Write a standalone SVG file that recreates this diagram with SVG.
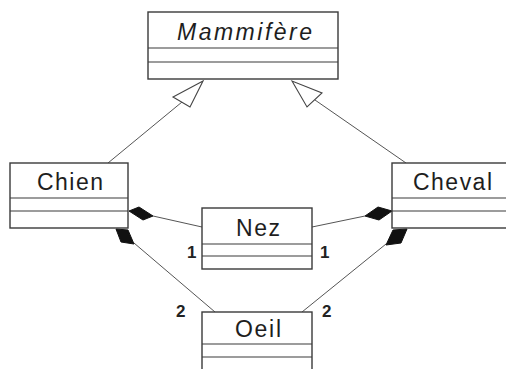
<svg xmlns="http://www.w3.org/2000/svg" width="506" height="369" viewBox="0 0 506 369">
<style>
.box{fill:#fff;stroke:#3a3a3a;stroke-width:1.4}
.div{stroke:#3a3a3a;stroke-width:1.2}
.name{font-family:"Liberation Sans",Arial,sans-serif;font-size:23px;fill:#1e1e1e;text-anchor:start}
.mult{font-family:"Liberation Sans",Arial,sans-serif;font-size:17px;font-weight:bold;fill:#222}
.ln{stroke:#555;stroke-width:1;fill:none}
.tri{fill:#fff;stroke:#444;stroke-width:1.1}
.dia{fill:#111;stroke:#111;stroke-width:1}
</style>
<rect width="506" height="369" fill="#fff"/>
<g id="connectors">
  <line class="ln" x1="108" y1="163" x2="182" y2="102"/>
  <polygon class="tri" points="203,81 173,97 190,107"/>
  <line class="ln" x1="406" y1="163" x2="315" y2="100"/>
  <polygon class="tri" points="292,81 307,107 322,93"/>
  <line class="ln" x1="153" y1="216" x2="202" y2="227"/>
  <polygon class="dia" points="129,211 139,207 153,216 143,220"/>
  <line class="ln" x1="365" y1="216" x2="312" y2="227"/>
  <polygon class="dia" points="392,211 379,220 365,216 378,207"/>
  <line class="ln" x1="134" y1="243" x2="215" y2="312"/>
  <polygon class="dia" points="116,229 128,230 134,244 121,242"/>
  <line class="ln" x1="386" y1="244" x2="302" y2="312"/>
  <polygon class="dia" points="407,229 401,243 386,245 393,230"/>
  <text class="mult" x="187" y="258">1</text>
  <text class="mult" x="320" y="258">1</text>
  <text class="mult" x="176" y="317">2</text>
  <text class="mult" x="322" y="317">2</text>
</g>
<g id="mammifere">
  <rect class="box" x="148" y="12" width="190" height="67"/>
  <line class="div" x1="148" y1="48" x2="338" y2="48"/>
  <line class="div" x1="148" y1="62" x2="338" y2="62"/>
  <text class="name" x="177" y="40" font-style="italic" textLength="135" lengthAdjust="spacing">Mammifère</text>
</g>
<g id="chien">
  <rect class="box" x="10" y="163" width="118" height="65"/>
  <line class="div" x1="10" y1="198" x2="128" y2="198"/>
  <line class="div" x1="10" y1="211" x2="128" y2="211"/>
  <text class="name" x="37" y="190" textLength="66" lengthAdjust="spacing">Chien</text>
</g>
<g id="cheval">
  <rect class="box" x="392" y="163" width="120" height="65"/>
  <line class="div" x1="392" y1="198" x2="512" y2="198"/>
  <line class="div" x1="392" y1="211" x2="512" y2="211"/>
  <text class="name" x="413" y="190" textLength="79" lengthAdjust="spacing">Cheval</text>
</g>
<g id="nez">
  <rect class="box" x="202" y="208" width="110" height="61"/>
  <line class="div" x1="202" y1="244" x2="312" y2="244"/>
  <line class="div" x1="202" y1="256" x2="312" y2="256"/>
  <text class="name" x="236" y="236" textLength="44" lengthAdjust="spacing">Nez</text>
</g>
<g id="oeil">
  <rect class="box" x="202" y="312" width="110" height="65"/>
  <line class="div" x1="202" y1="344" x2="312" y2="344"/>
  <line class="div" x1="202" y1="357" x2="312" y2="357"/>
  <text class="name" x="235" y="337" textLength="46" lengthAdjust="spacing">Oeil</text>
</g>
</svg>
